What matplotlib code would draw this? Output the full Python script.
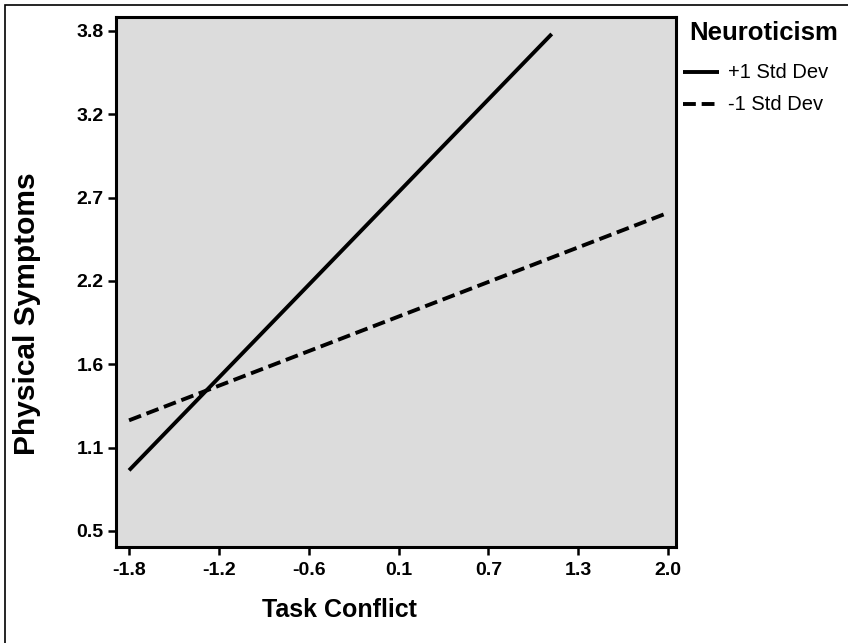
import matplotlib
matplotlib.use("Agg")
import matplotlib.pyplot as plt
from matplotlib.lines import Line2D
from matplotlib.patches import Rectangle

# Simple slopes: physical symptoms vs task conflict at +/-1 SD neuroticism
high_x = [-1.8, 1.18]
high_y = [0.90, 3.78]
low_x = [-1.8, 2.0]
low_y = [1.23, 2.60]

x_ticks = [-1.8, -1.1667, -0.5333, 0.1, 0.7333, 1.3667, 2.0]
x_tick_labels = ["-1.8", "-1.2", "-0.6", "0.1", "0.7", "1.3", "2.0"]
y_ticks = [0.5, 1.05, 1.6, 2.15, 2.7, 3.25, 3.8]
y_tick_labels = ["0.5", "1.1", "1.6", "2.2", "2.7", "3.2", "3.8"]

series_labels = ["+1 Std Dev", "-1 Std Dev"]
legend_title = "Neuroticism"

plt.rcParams["font.family"] = ["Liberation Sans", "DejaVu Sans"]

W, H = 848, 643
fig = plt.figure(figsize=(W / 100, H / 100), dpi=100)

def fx(px):
    return px / W

def fy(py):
    return 1 - py / H

# outer frame of the figure
fig.patches.append(Rectangle((fx(5), fy(H + 10)), fx(W + 10) - fx(5), fy(5) - fy(H + 10),
                             transform=fig.transFigure, fill=False, lw=1.2,
                             edgecolor="black", clip_on=False))

ax = fig.add_axes([fx(116), fy(547), fx(676) - fx(116), fy(17) - fy(547)])
ax.set_facecolor("#DCDCDC")

lw = 2.8
dash = (0, (3.3, 1.5))
ax.plot(high_x, high_y, color="black", lw=lw, solid_capstyle="butt")
ax.plot(low_x, low_y, color="black", lw=lw, linestyle=dash, dash_capstyle="butt")

ax.set_xlim(-1.892, 2.056)
ax.set_ylim(0.394, 3.892)
ax.set_xticks(x_ticks)
ax.set_xticklabels(x_tick_labels)
ax.set_yticks(y_ticks)
ax.set_yticklabels(y_tick_labels)

for s in ax.spines.values():
    s.set_linewidth(2.2)
ax.tick_params(axis="both", direction="out", length=6, width=1.8, labelsize=14)
ax.tick_params(axis="x", pad=5)
ax.tick_params(axis="y", pad=3)
for lab in ax.get_xticklabels() + ax.get_yticklabels():
    lab.set_fontweight("bold")

# axis titles
fig.text(fx(339), fy(610), "Task Conflict", fontsize=18, fontweight="bold",
         ha="center", va="center")
fig.text(fx(27), fy(314), "Physical Symptoms", fontsize=21.5, fontweight="bold",
         ha="center", va="center", rotation=90)

# legend
fig.text(fx(689), fy(33), legend_title, fontsize=18.5, fontweight="bold", va="center", ha="left")
for i, (ls, lab) in enumerate(zip(["-", dash], series_labels)):
    yy = fy(72 + 32 * i)
    fig.add_artist(Line2D([fx(683), fx(719)], [yy, yy], color="black", lw=lw,
                          linestyle=ls, dash_capstyle="butt", solid_capstyle="butt",
                          transform=fig.transFigure))
    fig.text(fx(728), yy, lab, fontsize=14.5, va="center", ha="left")

fig.savefig("out.png", dpi=100)
